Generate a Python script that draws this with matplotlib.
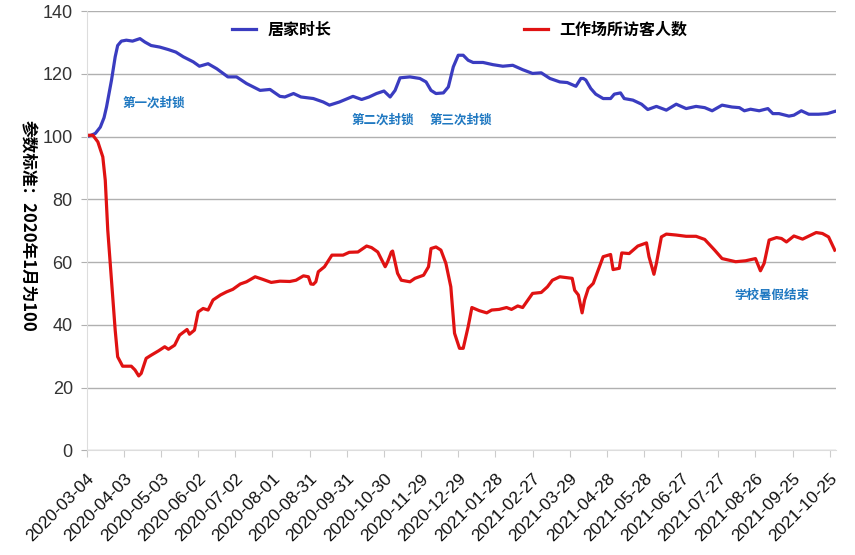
import matplotlib
matplotlib.use("Agg")
import matplotlib.pyplot as plt

plt.rcParams['font.family'] = ['Liberation Sans', 'Noto Sans CJK SC', 'DejaVu Sans']

# days since 2020-03-04
home_days = [0, 3, 7, 11, 14, 16, 20, 23, 25, 28, 32, 37, 43, 47, 52, 59, 66, 72, 78, 86,
             91, 98, 105, 114, 121, 129, 140, 148, 156, 160, 167, 173, 183, 191, 196, 204,
             215, 222, 228, 234, 240, 245, 249, 253, 261, 269, 274, 278, 282, 288, 292, 296,
             300, 304, 308, 312, 320, 328, 336, 344, 352, 360, 367, 374, 382, 388, 395, 399,
             401, 403, 407, 411, 417, 423, 426, 431, 434, 441, 448, 453, 460, 468, 476, 484,
             492, 499, 505, 513, 521, 527, 531, 536, 543, 550, 554, 559, 567, 571, 577, 583,
             591, 598, 604]
home_vals = [100, 100.3, 101, 103, 106, 109.4, 117.9, 125.4, 129, 130.4, 130.7, 130.4, 131.2,
             130.1, 129, 128.5, 127.7, 126.9, 125.4, 123.8, 122.4, 123.2, 121.6, 119, 119,
             116.9, 114.7, 115, 112.8, 112.6, 113.7, 112.6, 112.1, 111, 110, 111, 112.8, 111.8,
             112.6, 113.7, 114.5, 112.6, 114.7, 118.7, 119, 118.5, 117.4, 114.7, 113.7, 113.9,
             115.8, 122.2, 125.9, 125.9, 124.3, 123.6, 123.6, 122.9, 122.4, 122.7, 121.3,
             120.1, 120.3, 118.5, 117.4, 117.2, 116, 118.5, 118.5, 118, 115.3, 113.5, 112.1,
             112.1, 113.5, 113.9, 112.1, 111.6, 110.3, 108.6, 109.6, 108.4, 110.3, 108.9,
             109.6, 109.2, 108.2, 110, 109.4, 109.2, 108.2, 108.7, 108.2, 108.9, 107.3, 107.3,
             106.5, 106.8, 108.2, 107.1, 107.1, 107.3, 108]

work_days = [0, 5, 9, 13, 15, 17, 20, 23, 25, 29, 36, 39, 42, 44, 48, 52, 58, 63, 66, 71, 75,
             81, 83, 87, 90, 94, 98, 102, 108, 113, 118, 124, 129, 136, 142, 149, 156, 164,
             169, 175, 179, 181, 183, 185, 187, 192, 198, 207, 212, 219, 226, 230, 235, 241,
             243, 246, 247, 251, 254, 261, 265, 272, 276, 278, 282, 286, 290, 294, 297, 301,
             304, 308, 311, 317, 323, 327, 333, 339, 343, 348, 352, 360, 367, 372, 376, 382,
             386, 392, 394, 397, 400, 402, 405, 409, 413, 417, 423, 425, 430, 432, 438, 445,
             452, 454, 458, 460, 464, 468, 476, 484, 492, 499, 507, 513, 524, 532, 540, 544,
             547, 551, 557, 561, 565, 571, 578, 589, 594, 599, 604]
work_vals = [100.4, 100.4, 98.3, 93.5, 86, 70.2, 54.2, 38.3, 29.8, 26.8, 26.8, 25.6, 23.7,
             24.5, 29.3, 30.3, 31.7, 33, 32.2, 33.5, 36.7, 38.5, 37, 38.3, 44.1, 45.2, 44.7,
             47.9, 49.5, 50.5, 51.3, 53, 53.7, 55.3, 54.5, 53.5, 53.9, 53.8, 54.2, 55.6, 55.3,
             53, 52.9, 53.7, 56.9, 58.5, 62.2, 62.2, 63.1, 63.2, 65.1, 64.6, 63.2, 58.5, 60.1,
             63.2, 63.5, 56.4, 54.2, 53.7, 54.8, 55.8, 58.5, 64.3, 64.8, 63.8, 59.6, 52.1,
             37.3, 32.5, 32.5, 39.4, 45.5, 44.5, 43.8, 44.7, 44.9, 45.5, 44.9, 46, 45.5, 50,
             50.3, 52.1, 54.2, 55.3, 55.1, 54.8, 51, 49.5, 43.8, 47.9, 51.6, 53.2, 57.4, 61.7,
             62.4, 57.6, 58, 62.9, 62.7, 65.1, 66.1, 61.7, 56.1, 59.6, 68, 68.9, 68.6, 68.2,
             68.2, 67.2, 63.8, 61.1, 60.1, 60.4, 61.1, 57.2, 59.6, 67, 67.8, 67.5, 66.4, 68.3,
             67.3, 69.4, 69.1, 68, 63.8]

tick_labels = ['2020-03-04', '2020-04-03', '2020-05-03', '2020-06-02', '2020-07-02',
               '2020-08-01', '2020-08-31', '2020-09-31', '2020-10-30', '2020-11-29',
               '2020-12-29', '2021-01-28', '2021-02-27', '2021-03-29', '2021-04-28',
               '2021-05-28', '2021-06-27', '2021-07-27', '2021-08-26', '2021-09-25',
               '2021-10-25']
tick_days = [30 * i for i in range(len(tick_labels))]

notes = ['第一次封锁', '第二次封锁', '第三次封锁', '学校暑假结束']
note_x = [29, 214, 277, 523]
note_y = [110.8, 105.3, 105.3, 49.2]

fig = plt.figure(figsize=(8.55, 5.55), dpi=100)
ax = fig.add_axes([86.7 / 855, 1 - 450.3 / 555, (836 - 86.7) / 855, 439.3 / 555])

ax.plot(home_days, home_vals, color='#3a3cc0', lw=2.3, label='居家时长', solid_joinstyle='round')
ax.plot(work_days, work_vals, color='#e01212', lw=2.3, label='工作场所访客人数', solid_joinstyle='round')

ax.set_xlim(0, 605)
ax.set_ylim(0, 140)
ax.set_yticks(range(0, 141, 20))
ax.set_xticks(tick_days)
ax.set_xticklabels(tick_labels, rotation=45, ha='right', rotation_mode='anchor')
ax.tick_params(axis='x', length=5, color='#cccccc', labelsize=12.5, labelcolor='#111111', pad=10)
ax.tick_params(axis='y', length=4, color='#b0b0b0', labelsize=13, labelcolor='#333333', pad=6)
ax.grid(axis='y', color='#b0b0b0', lw=1)
ax.set_axisbelow(True)
for s in ['top', 'right']:
    ax.spines[s].set_visible(False)
ax.spines['left'].set_color('#dddddd')
ax.spines['bottom'].set_color('#dddddd')

ax.set_ylabel('参数标准：2020年1月为100', rotation=270, fontsize=12, fontweight='bold',
              family=['Noto Sans CJK SC', 'DejaVu Sans'])
ax.yaxis.set_label_coords(-0.092, 0.51)

for t, x, y in zip(notes, note_x, note_y):
    ax.text(x, y, t, color='#1f78c1', fontsize=9, fontweight='bold', va='center',
            family=['Noto Sans CJK SC', 'DejaVu Sans'])

ax.legend(loc='center left', bbox_to_anchor=(0.194, 0.957), ncol=2, frameon=False,
          borderaxespad=0, borderpad=0, handlelength=1.5, handletextpad=0.7,
          columnspacing=12.1,
          prop={'family': ['Noto Sans CJK SC', 'DejaVu Sans'], 'weight': 'bold', 'size': 11.5})

fig.savefig('out.png', dpi=100)
